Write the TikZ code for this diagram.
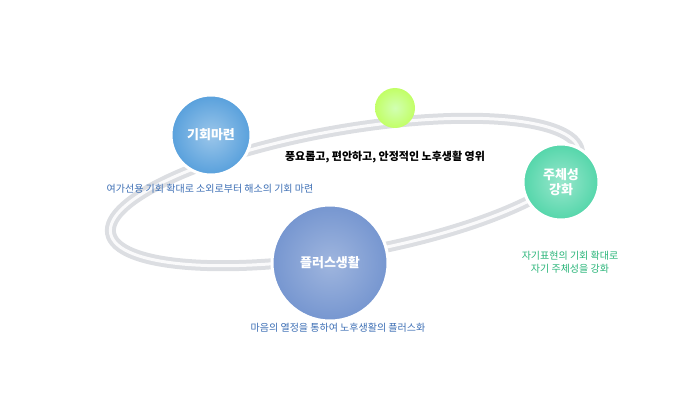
\documentclass[tikz,border=0pt]{standalone}
\usepackage{fontspec}
\setmainfont{Noto Sans CJK KR}
\usetikzlibrary{positioning}
\definecolor{ringgray}{RGB}{220,222,226}
\definecolor{bluea}{RGB}{88,160,220}
\definecolor{blueb}{RGB}{118,150,208}
\definecolor{tealc}{RGB}{84,214,170}
\definecolor{txtblue}{RGB}{60,110,180}
\definecolor{txtgreen}{RGB}{40,180,120}
\begin{document}
\begin{tikzpicture}[x=1pt,y=-1pt,
  ball/.style={circle,draw=white,line width=3pt,text=white,font=\bfseries\fontsize{13}{15}\selectfont,align=center,inner sep=0pt},
  desc/.style={font=\fontsize{10}{13}\selectfont,align=center}]
\useasboundingbox (0,0) rectangle (696,409);
% ring
\draw[ringgray,line width=11pt,rotate around={10:(345,192)}] (345,192) ellipse [x radius=238,y radius=62];
\draw[white!85!ringgray,line width=3pt,rotate around={10:(345,192)}] (345,192) ellipse [x radius=238,y radius=62];
% balls
\node[ball,minimum size=80pt,inner color=bluea!60,outer color=bluea] (plan) at (211,135) {기회마련};
\node[circle,minimum size=40pt,inner color=yellow!40!green!30,outer color=yellow!60!green!60] (dot) at (395,108) {};
\node[ball,minimum size=76pt,inner color=tealc!60,outer color=tealc] (self) at (561,182) {주체성\\강화};
\node[ball,minimum size=116pt,inner color=blueb!70,outer color=blueb] (plus) at (330,263) {플러스생활};
% texts
\node[font=\bfseries\fontsize{11}{13}\selectfont] (goal) at (385,157) {풍요롭고, 편안하고, 안정적인 노후생활 영위};
\node[desc,text=txtblue] (plantxt) at (210,189) {여가선용 기회 확대로 소외로부터 해소의 기회 마련};
\node[desc,text=txtgreen] (selftxt) at (570,262) {자기표현의 기회 확대로\\자기 주체성을 강화};
\node[desc,text=txtblue] (plustxt) at (338,328) {마음의 열정을 통하여 노후생활의 플러스화};
\end{tikzpicture}
\end{document}
